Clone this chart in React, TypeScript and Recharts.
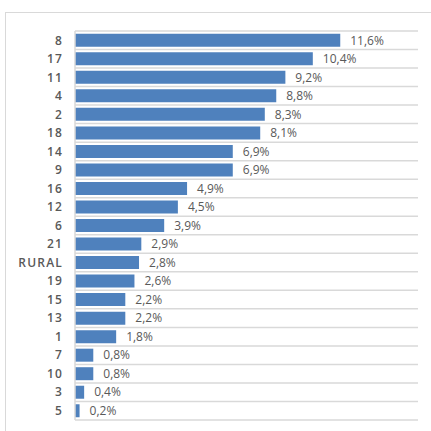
import { BarChart, Bar, XAxis, YAxis, CartesianGrid, LabelList } from 'recharts';

const zones = ['8', '17', '11', '4', '2', '18', '14', '9', '16', '12', '6', '21', 'RURAL', '19', '15', '13', '1', '7', '10', '3', '5'];
const shares = [11.6, 10.4, 9.2, 8.8, 8.3, 8.1, 6.9, 6.9, 4.9, 4.5, 3.9, 2.9, 2.8, 2.6, 2.2, 2.2, 1.8, 0.8, 0.8, 0.4, 0.2];

const data = zones.map((zone, i) => ({ zone, share: shares[i] }));

const fmt = (v: number) => v.toFixed(1).replace('.', ',') + '%';

export default function App() {
  return (
    <div style={{ position: 'fixed', left: 0, top: 0, width: 431, height: 431, background: '#fff', overflow: 'hidden' }}>
      <div
        style={{
          position: 'absolute',
          left: 5,
          top: 12,
          width: 450,
          height: 450,
          borderLeft: '1px solid #d9d9d9',
          borderTop: '1px solid #d9d9d9',
        }}
      />
      <div style={{ position: 'absolute', left: 0, top: 0 }}>
        <BarChart
          width={431}
          height={431}
          data={data}
          layout='vertical'
          margin={{ top: 31, right: 13, bottom: 11, left: 0 }}
          barCategoryGap='15%'
        >
          <CartesianGrid
            vertical={false}
            stroke='#d9d9d9'
            strokeWidth={1.5}
            horizontalCoordinatesGenerator={({ offset }: any) =>
              Array.from({ length: zones.length + 1 }, (_, i) => offset.top + (i * offset.height) / zones.length)
            }
          />
          <XAxis type='number' domain={[0, 15]} hide />
          <YAxis
            type='category'
            dataKey='zone'
            width={75}
            axisLine={{ stroke: '#d9d9d9', strokeWidth: 1.5 }}
            tickLine={false}
            tickSize={0}
            tickMargin={12}
            interval={0}
            tick={{ fill: '#595959', fontSize: 12, fontWeight: 600, fontFamily: 'Open Sans', letterSpacing: 1.2 }}
          />
          <Bar dataKey='share' fill='#4f81bd' isAnimationActive={false}>
            <LabelList
              dataKey='share'
              position='right'
              offset={10}
              formatter={(v: any) => fmt(Number(v))}
              fill='#595959'
              fontSize={12}
              fontFamily='Open Sans'
            />
          </Bar>
        </BarChart>
      </div>
    </div>
  );
}
